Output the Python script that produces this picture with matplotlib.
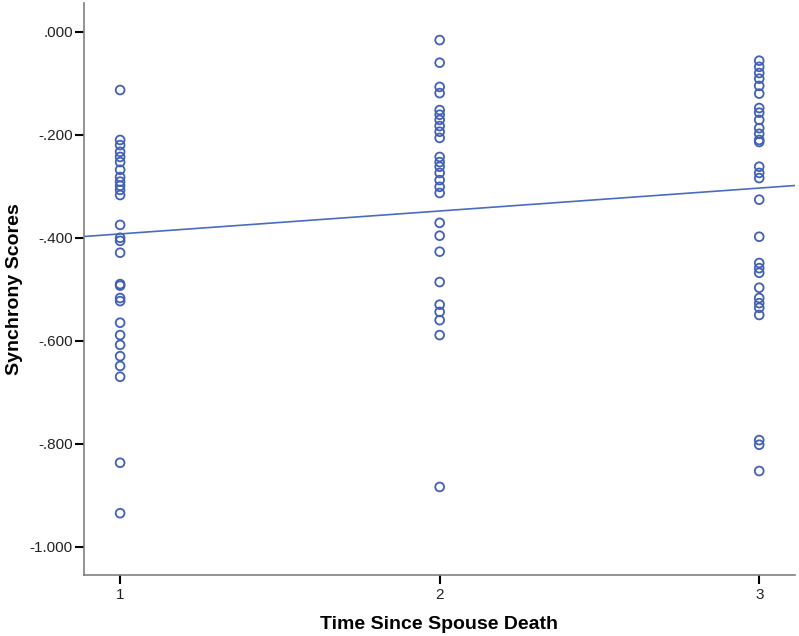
import matplotlib
matplotlib.use("Agg")
import matplotlib.pyplot as plt
import numpy as np

plt.rcParams['font.family'] = ['Liberation Sans', 'DejaVu Sans']

# Data
group_x = [1, 2, 3]
scores_t1 = [-0.113, -0.210, -0.220, -0.233, -0.243, -0.253, -0.268, -0.282, -0.291,
             -0.299, -0.307, -0.317, -0.375, -0.400, -0.406, -0.429, -0.490, -0.493,
             -0.517, -0.523, -0.565, -0.589, -0.608, -0.630, -0.649, -0.670, -0.837, -0.935]
scores_t2 = [-0.016, -0.060, -0.107, -0.119, -0.152, -0.161, -0.171, -0.183, -0.194,
             -0.206, -0.243, -0.253, -0.262, -0.274, -0.288, -0.301, -0.313, -0.371,
             -0.396, -0.427, -0.486, -0.530, -0.544, -0.560, -0.589, -0.884]
scores_t3 = [-0.056, -0.068, -0.080, -0.091, -0.105, -0.120, -0.148, -0.157, -0.171,
             -0.187, -0.198, -0.210, -0.214, -0.262, -0.274, -0.284, -0.326, -0.398,
             -0.449, -0.459, -0.468, -0.497, -0.517, -0.527, -0.536, -0.550, -0.793,
             -0.802, -0.853]
fit_intercept = -0.437
fit_slope = 0.0445

y_ticks = [0.0, -0.2, -0.4, -0.6, -0.8, -1.0]
y_tick_labels = ['.000', '-.200', '-.400', '-.600', '-.800', '-1.000']
x_ticks = [1, 2, 3]
x_tick_labels = ['1', '2', '3']

x_label = 'Time Since Spouse Death'
y_label = 'Synchrony Scores'

fig = plt.figure(figsize=(7.99, 6.36), dpi=100)
ax = fig.add_axes([84 / 799, 1 - 575 / 636, (795 - 84) / 799, (575 - 3) / 636])

marker_color = '#4160B6'
for gx, vals in zip(group_x, [scores_t1, scores_t2, scores_t3]):
    ax.scatter([gx] * len(vals), vals, s=40, facecolors='none',
               edgecolors=marker_color, linewidths=1.3, zorder=3)

xlim = (0.887, 3.112)
xs = np.array(xlim)
ax.plot(xs, fit_intercept + fit_slope * xs, color='#4A6CC0', linewidth=1.2, zorder=2)

ax.set_xlim(*xlim)
ax.set_ylim(-1.055, 0.056)
ax.set_xticks(x_ticks)
ax.set_xticklabels(x_tick_labels)
ax.set_yticks(y_ticks)
ax.set_yticklabels(y_tick_labels)

for s in ['top', 'right']:
    ax.spines[s].set_visible(False)
for s in ['left', 'bottom']:
    ax.spines[s].set_color('#808080')
    ax.spines[s].set_linewidth(1.2)

ax.tick_params(axis='both', direction='out', length=6.5, width=1.5, color='black',
               labelsize=11, labelcolor='#222222', pad=1.5)
ax.tick_params(axis='x', pad=3)

ax.set_xlabel(x_label, fontsize=14, fontweight='bold', labelpad=10)
ax.set_ylabel(y_label, fontsize=14, fontweight='bold', labelpad=5)

fig.savefig('out.png', dpi=100)
